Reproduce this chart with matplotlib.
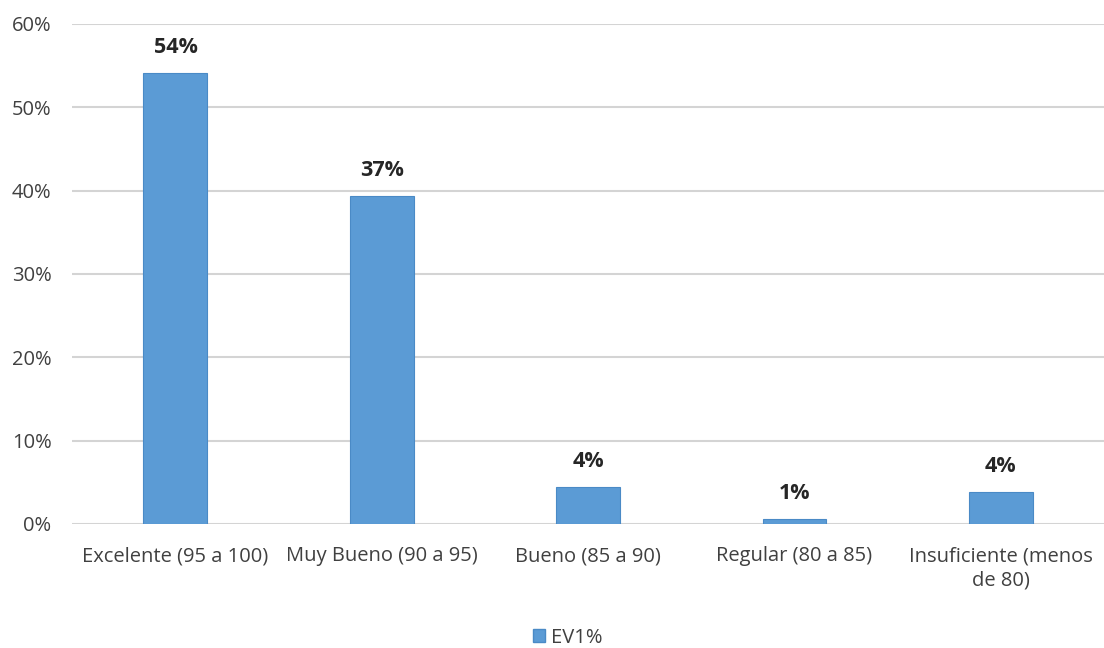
import matplotlib
matplotlib.use("Agg")
import matplotlib.pyplot as plt
from matplotlib.patches import Patch

categories = ["Excelente (95 a 100)", "Muy Bueno (90 a 95)", "Bueno (85 a 90)",
              "Regular (80 a 85)", "Insuficiente (menos\nde 80)"]
values = [54.1, 39.3, 4.4, 0.6, 3.8]
bar_labels = ["54%", "37%", "4%", "1%", "4%"]
yticks = [0, 10, 20, 30, 40, 50, 60]
series_name = "EV1%"

plt.rcParams['font.family'] = ['Open Sans', 'DejaVu Sans']

fig = plt.figure(figsize=(11.04, 6.48), dpi=100)
ax = fig.add_axes([0.0655, 0.1914, 0.9345, 0.7716])

x = list(range(len(categories)))
bars = ax.bar(x, values, width=0.31, color="#5B9BD5", edgecolor="#4A8AC6", linewidth=0.8, zorder=3)

for xi, v, lab in zip(x, values, bar_labels):
    ax.annotate(lab, (xi, v), xytext=(0, 11), textcoords="offset points",
                ha="center", va="bottom", fontsize=15.5, fontweight="bold", color="#262626")

ax.set_xlim(-0.5, len(categories) - 0.5)
ax.set_ylim(0, 60)
ax.set_yticks(yticks)
ax.set_yticklabels([f"{t}%" for t in yticks])
ax.set_xticks(x)
ax.set_xticklabels(categories, linespacing=1.3)
ax.tick_params(axis="both", length=0, labelsize=14.5, colors="#404040")
ax.tick_params(axis="x", pad=16)
ax.tick_params(axis="y", pad=15)
ax.grid(axis="y", color="#D4D4D4", linewidth=1.5, zorder=0)
for s in ax.spines.values():
    s.set_visible(False)

handle = Patch(facecolor="#5B9BD5", edgecolor="#4A8AC6", label=series_name)
fig.legend(handles=[handle], loc="center", bbox_to_anchor=(0.514, 0.0155), frameon=False,
           fontsize=14.5, handlelength=0.6, handleheight=0.6, handletextpad=0.3,
           labelcolor="#404040")

fig.savefig("out.png", dpi=100)
